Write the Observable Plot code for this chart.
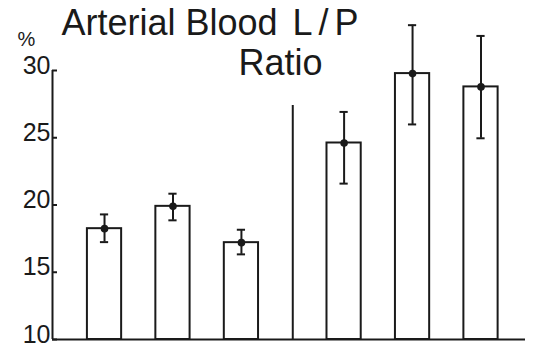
<!DOCTYPE html>
<html>
<head>
<meta charset="utf-8">
<script src="https://cdn.jsdelivr.net/npm/d3@7"></script>
<script src="https://cdn.jsdelivr.net/npm/@observablehq/plot@0.6"></script>
<style>
  html, body { margin: 0; padding: 0; background: #ffffff; }
  #chart { width: 533px; height: 348px; }
</style>
</head>
<body>
<div id="chart"></div>
<script>
// ---- data ----
const positions = [0, 1, 2, 3.5, 4.5, 5.5];          // bar slots (gap between groups)
const means     = [18.24, 19.90, 17.20, 24.61, 29.77, 28.78];
const upper     = [19.30, 20.84, 18.16, 26.92, 33.37, 32.57];
const lower     = [17.24, 18.86, 16.33, 21.59, 25.99, 24.96];
const yTicks    = [10, 15, 20, 25, 30];
const dividerPos = [2.75];
const dividerTop = 27.4;
const titleLine1 = "Arterial Blood";
const titleLP = "L/P";
const titleLine2 = "Ratio";
const unitLabel = "%";

const data = positions.map((p, i) => ({pos: p, mean: means[i], hi: upper[i], lo: lower[i]}));

const ink = "#1a1a1a";
const xDomain = [-0.76, 6.15];
const halfBar = 0.25;
const halfCap = 0.06;
const sw = 2;

const chart = Plot.plot({
  width: 533,
  height: 348,
  marginLeft: 52,
  marginRight: 8,
  marginTop: 70,
  marginBottom: 9,
  style: {fontFamily: "Liberation Sans, Arial, sans-serif", background: "#ffffff", color: ink},
  x: {type: "linear", domain: xDomain, axis: null},
  y: {domain: [10, 30], label: null},
  marks: [
    // y axis labels
    Plot.axisY(yTicks, {tickSize: 0, tickPadding: 2, fontSize: 25, dy: -5, fill: ink, label: null, tickFormat: d => String(d)}),
    // inward tick marks
    Plot.axisY(yTicks, {tickSize: 5, dx: 5, fill: "none", stroke: ink, strokeWidth: sw, label: null}),
    // axis line
    Plot.ruleX([xDomain[0]], {y1: 10, y2: 30, stroke: ink, strokeWidth: sw}),
    // baseline
    Plot.ruleY([10], {stroke: ink, strokeWidth: sw}),
    // group divider
    Plot.ruleX(dividerPos, {y1: 10, y2: dividerTop, stroke: ink, strokeWidth: sw}),
    // bars
    Plot.rect(data, {x1: d => d.pos - halfBar, x2: d => d.pos + halfBar, y1: 10, y2: "mean",
      fill: "white", stroke: ink, strokeWidth: sw}),
    // error bars
    Plot.ruleX(data, {x: "pos", y1: "lo", y2: "hi", stroke: ink, strokeWidth: sw}),
    Plot.ruleY(data, {y: "hi", x1: d => d.pos - halfCap, x2: d => d.pos + halfCap, stroke: ink, strokeWidth: sw}),
    Plot.ruleY(data, {y: "lo", x1: d => d.pos - halfCap, x2: d => d.pos + halfCap, stroke: ink, strokeWidth: sw}),
    Plot.dot(data, {x: "pos", y: "mean", r: 3.8, fill: ink, stroke: "none"}),
    // title texts
    Plot.text([titleLine1], {text: d => d, frameAnchor: "top-left", textAnchor: "start", lineAnchor: "bottom",
      dx: 61 - 52, dy: 34 - 70, fontSize: 36, fill: ink}),
    Plot.text([titleLP], {text: d => d, frameAnchor: "top-left", textAnchor: "start", lineAnchor: "bottom",
      dx: 292 - 52, dy: 34 - 70, fontSize: 36, fill: ink}),
    Plot.text([titleLine2], {text: d => d, frameAnchor: "top-left", textAnchor: "start", lineAnchor: "bottom",
      dx: 238 - 52, dy: 74 - 70, fontSize: 36, fill: ink}),
    Plot.text([unitLabel], {text: d => d, frameAnchor: "top-left", textAnchor: "start", lineAnchor: "bottom",
      dx: 17 - 52, dy: 45 - 70, fontSize: 20, fill: ink})
  ]
});

// apply letter spacing to L/P text
d3.select(chart).selectAll("text").filter(function() { return this.textContent === titleLP; })
  .attr("letter-spacing", 6);

document.getElementById("chart").appendChild(chart);
</script>
</body>
</html>
